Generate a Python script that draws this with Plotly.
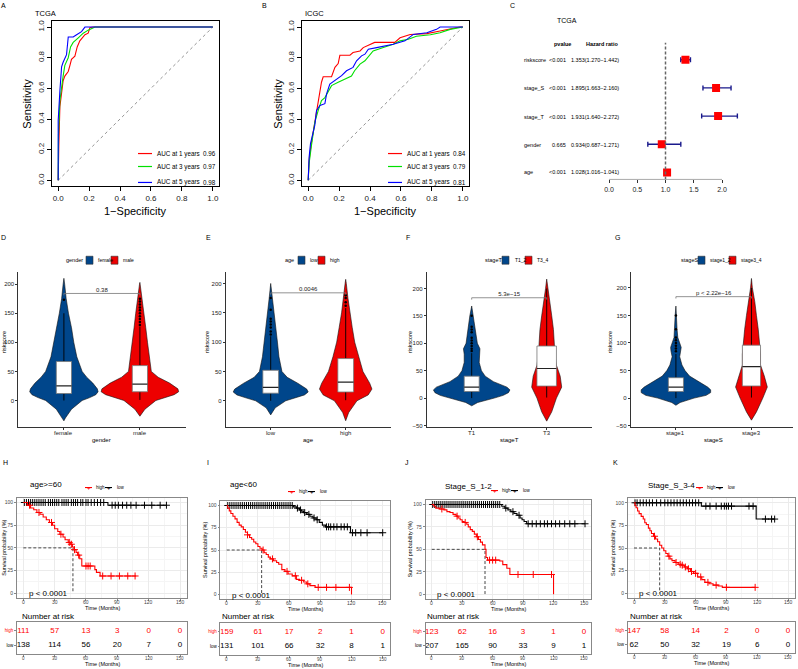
import plotly.graph_objects as go

W, H = 798, 669
FONT = "Liberation Sans, Arial, Helvetica, sans-serif"
BLUE = "#00468B"
RED = "#ED0000"

# ====================== DATA ======================
roc_ticks = [0.0, 0.2, 0.4, 0.6, 0.8, 1.0]
auc_years = [1, 3, 5]
roc_colors = ["#FF0000", "#00E000", "#0000FF"]

# TCGA ROC
tcga_fpr_1 = [0, 0, 0.004, 0.011, 0.022, 0.032, 0.043, 0.065, 0.076, 0.086, 0.108, 0.123, 0.14, 0.158, 0.173, 0.194, 0.205, 0.227, 1.0]
tcga_tpr_1 = [0, 0.09, 0.22, 0.48, 0.56, 0.65, 0.68, 0.71, 0.75, 0.79, 0.81, 0.87, 0.91, 0.93, 0.95, 0.96, 0.996, 1, 1]
tcga_fpr_3 = [0, 0.002, 0.011, 0.022, 0.032, 0.043, 0.065, 0.08, 0.097, 0.13, 0.162, 0.194, 0.238, 1.0]
tcga_tpr_3 = [0, 0.3, 0.52, 0.62, 0.68, 0.75, 0.80, 0.87, 0.9, 0.93, 0.96, 0.98, 1, 1]
tcga_fpr_5 = [0, 0, 0.011, 0.022, 0.032, 0.054, 0.065, 0.097, 0.119, 0.151, 0.173, 1.0]
tcga_tpr_5 = [0, 0.39, 0.585, 0.74, 0.77, 0.82, 0.935, 0.935, 0.95, 0.97, 1, 1]
tcga_auc = ["0.96", "0.97", "0.98"]

# ICGC ROC
icgc_fpr_1 = [0, 0.006, 0.02, 0.03, 0.043, 0.054, 0.065, 0.076, 0.086, 0.097, 0.151, 0.173, 0.194, 0.205, 0.27, 0.29, 0.335, 0.356, 0.4, 0.43, 0.56, 0.594, 0.66, 0.767, 0.853, 0.9, 0.98, 1.0]
icgc_tpr_1 = [0, 0.13, 0.24, 0.30, 0.37, 0.46, 0.52, 0.585, 0.64, 0.676, 0.676, 0.737, 0.762, 0.816, 0.816, 0.834, 0.844, 0.866, 0.888, 0.9, 0.9, 0.93, 0.952, 0.957, 0.974, 0.985, 1, 1]
icgc_fpr_3 = [0, 0.006, 0.02, 0.03, 0.043, 0.065, 0.086, 0.108, 0.13, 0.151, 0.194, 0.238, 0.28, 0.3, 0.335, 0.367, 0.4, 0.42, 0.486, 0.55, 0.594, 0.648, 0.7, 0.79, 0.853, 0.918, 1.0]
icgc_tpr_3 = [0, 0.11, 0.22, 0.3, 0.38, 0.456, 0.52, 0.54, 0.585, 0.618, 0.64, 0.66, 0.68, 0.715, 0.758, 0.78, 0.823, 0.844, 0.866, 0.888, 0.91, 0.92, 0.94, 0.95, 0.963, 0.985, 1]
icgc_fpr_5 = [0, 0.006, 0.015, 0.028, 0.043, 0.054, 0.076, 0.108, 0.119, 0.14, 0.173, 0.216, 0.248, 0.29, 0.313, 0.345, 0.367, 0.389, 0.443, 0.55, 0.626, 0.68, 0.767, 0.83, 0.853, 1.0]
icgc_tpr_5 = [0, 0.15, 0.24, 0.3, 0.36, 0.456, 0.488, 0.5, 0.564, 0.628, 0.65, 0.683, 0.715, 0.737, 0.78, 0.812, 0.823, 0.856, 0.866, 0.888, 0.91, 0.952, 0.963, 0.985, 1, 1]
icgc_auc = ["0.84", "0.79", "0.81"]

# Forest (TCGA multivariate Cox)
forest_vars = ["riskscore", "stage_S", "stage_T", "gender", "age"]
forest_p = ["<0.001", "<0.001", "<0.001", "0.665", "<0.001"]
forest_hr = [1.353, 1.895, 1.931, 0.934, 1.028]
forest_lo = [1.270, 1.663, 1.640, 0.687, 1.016]
forest_hi = [1.442, 2.160, 2.272, 1.271, 1.041]
forest_ticks = [0.0, 0.5, 1.0, 1.5, 2.0]

# Violins: outline profiles (riskscore level, half width in category units)
gender_cats = ["female", "male"]
gender_groups = ["female", "male"]
female_v = [-35, -30, -15, 0, 5, 10, 15, 20, 30, 40, 50, 75, 100, 125, 150, 175, 200, 210]
female_w = [0, 0.02, 0.1, 0.24, 0.34, 0.42, 0.45, 0.44, 0.38, 0.3, 0.24, 0.17, 0.13, 0.1, 0.06, 0.03, 0.01, 0]
male_v = [-27, -15, 0, 5, 10, 15, 20, 30, 40, 50, 75, 100, 125, 150, 175, 200, 203]
male_w = [0, 0.066, 0.21, 0.33, 0.45, 0.51, 0.5, 0.39, 0.24, 0.15, 0.12, 0.1, 0.077, 0.055, 0.033, 0.005, 0]
# box stats: [category, lower whisker, q1, median, q3, upper whisker]
gender_box = [[0, 0, 12, 25, 67, 150], [1, 1, 15, 28, 60, 127]]
gender_out = [[173], [130, 135, 140, 145, 150, 155, 160, 165, 170, 175]]
gender_p = "0.38"

age_cats = ["low", "high"]
age_groups = ["low", "high"]
agelow_v = [-24, -12, 0, 5, 10, 15, 20, 30, 40, 50, 75, 100, 125, 150, 175, 200]
agelow_w = [0, 0.06, 0.2, 0.33, 0.45, 0.5, 0.48, 0.36, 0.22, 0.15, 0.11, 0.09, 0.07, 0.045, 0.02, 0]
agehigh_v = [-34, -20, 0, 10, 20, 30, 50, 75, 100, 125, 150, 175, 200, 207]
agehigh_w = [0, 0.04, 0.15, 0.3, 0.35, 0.32, 0.23, 0.17, 0.12, 0.087, 0.055, 0.03, 0.008, 0]
age_box = [[0, 0, 13, 23, 52, 110], [1, 1, 15, 32, 72, 158]]
age_out = [[113, 118, 125, 130, 135, 140, 155, 175], [162, 168, 175, 180]]
age_p = "0.0046"

stageT_cats = ["T1", "T3"]
stageT_groups = ["T1_2", "T3_4"]
t12_v = [-14, -8, 0, 5, 10, 15, 20, 30, 40, 50, 65, 80, 90, 100, 115, 130, 150, 168]
t12_w = [0, 0.08, 0.3, 0.42, 0.49, 0.51, 0.47, 0.29, 0.18, 0.13, 0.1, 0.1, 0.11, 0.075, 0.06, 0.04, 0.025, 0]
t34_v = [-42, -25, 0, 20, 40, 60, 80, 100, 125, 150, 175, 200, 217]
t34_w = [0, 0.067, 0.13, 0.2, 0.18, 0.13, 0.11, 0.1, 0.09, 0.067, 0.044, 0.015, 0]
stageT_box = [[0, 0, 12, 20, 40, 82], [1, 1, 22, 54, 95, 200]]
stageT_out = [[86, 90, 95, 100, 105, 110, 120, 125, 130, 150], []]
stageT_p = "5.3e\u221215"

stageS_cats = ["stage1", "stage3"]
stageS_groups = ["stage1_2", "stage3_4"]
s12_v = [-13, -8, 0, 5, 10, 15, 20, 30, 40, 50, 60, 75, 85, 92, 100, 110, 125, 150, 167]
s12_w = [0, 0.055, 0.24, 0.4, 0.46, 0.46, 0.42, 0.3, 0.18, 0.12, 0.08, 0.05, 0.065, 0.07, 0.05, 0.025, 0.015, 0.01, 0]
s34_v = [-40, -25, 0, 20, 40, 60, 80, 100, 125, 150, 175, 200, 217]
s34_w = [0, 0.066, 0.15, 0.21, 0.17, 0.12, 0.12, 0.11, 0.09, 0.066, 0.044, 0.012, 0]
stageS_box = [[0, 0, 12, 20, 37, 80], [1, 1, 22, 57, 96, 200]]
stageS_out = [[85, 90, 95, 100, 105, 110, 125, 150], []]
stageS_p = "p < 2.22e\u221216"

# Survival curves (time in months, survival %)
time_ticks = [0, 30, 60, 90, 120, 150]
H_high_t = [0, 4, 7, 10, 13, 16, 19, 22, 25, 28, 30, 33, 35, 38, 40, 43, 45, 47, 48.5, 50.5, 52, 54, 56, 68.5, 70, 73.5, 108]
H_high_s = [100, 97, 94, 92, 89, 87, 84, 81, 78, 75, 71, 68, 65, 62, 59, 56, 54, 51, 48, 45, 42, 38, 30, 26, 23, 19, 19]
H_high_c = [6, 15, 27, 36, 44, 46, 49, 53, 60, 62, 64, 76, 84, 92, 100, 107]
H_low_t = [0, 81, 137]
H_low_s = [100, 97, 97]
H_low_c = [1, 3, 5, 7, 9, 11, 13, 15, 17, 19, 21, 24, 26, 28, 30, 32, 34, 37, 39, 41, 43, 46, 48, 50, 52, 55, 57, 60, 62, 65, 68, 71, 74, 77, 85, 88, 91, 95, 99, 103, 108, 116, 123, 131, 137]
H_risk_high = [111, 57, 13, 3, 0, 0]
H_risk_low = [138, 114, 56, 20, 7, 0]
H_median = 47.5

I_high_t = [0, 1, 2.5, 4, 6, 8, 10, 12, 14, 16, 18, 20, 22, 24, 26, 28, 30, 32, 34, 36, 38, 40, 42, 45, 48, 50, 53, 56, 59, 63, 67, 70, 74, 77, 80, 85, 120]
I_high_s = [100, 97, 94, 91, 88, 85, 81, 78, 76, 73, 70, 67, 64, 62, 59, 57, 54, 52, 50, 47, 45, 42, 40, 38, 36, 34, 28, 26, 23, 21, 17, 16, 14, 12, 10, 8, 0]
I_high_c = [20, 35, 44, 58, 66, 72, 78, 88, 96, 105, 118]
I_low_t = [0, 64, 67, 70, 72, 74, 77, 80, 83, 86, 89, 92, 95, 119, 150]
I_low_s = [100, 98.5, 97, 95, 93.5, 92, 90, 88, 86, 84, 81, 78, 76, 69.4, 69.4]
I_low_c = [1, 3, 5, 7, 9, 11, 13, 15, 17, 19, 21, 23, 25, 27, 29, 31, 33, 35, 37, 39, 41, 43, 45, 47, 49, 51, 53, 55, 57, 59, 61, 63, 68, 71, 75, 79, 84, 87, 96, 98, 100, 103, 106, 110, 113, 116, 121, 124, 129, 135, 150]
I_risk_high = [159, 61, 17, 2, 1, 0]
I_risk_low = [131, 101, 66, 32, 8, 1]
I_median = 33.6

J_high_t = [0, 2, 4, 8, 12, 15, 18, 21, 24, 26, 28, 30, 32, 34.5, 36, 38, 40, 42, 44, 46, 48, 50, 52.5, 53.5, 55, 67, 70, 74, 77, 120]
J_high_s = [100, 98, 96, 95, 94, 92, 91, 89, 87, 85, 83, 81, 80, 78, 75, 72, 70, 67, 64, 61, 58, 55, 50, 41, 38, 37, 33, 29, 22, 0]
J_high_c = [10, 25, 33, 45, 57, 60, 63, 85, 100, 118]
J_low_t = [0, 69, 72, 75, 78, 81, 84, 87, 89, 91, 93.5, 151]
J_low_s = [100, 98, 96, 94, 92, 90, 88, 85, 83, 81, 78.5, 78.5]
J_low_c = [1, 3, 5, 7, 9, 11, 13, 15, 17, 19, 21, 23, 25, 27, 29, 31, 33, 35, 37, 39, 41, 43, 45, 47, 49, 51, 53, 55, 57, 59, 61, 63, 65, 67, 73, 80, 86, 95, 99, 103, 107, 111, 114, 118, 122, 126, 131, 136, 141, 151]
J_risk_high = [123, 62, 16, 3, 1, 0]
J_risk_low = [207, 165, 90, 33, 9, 1]
J_median = 52.5

K_high_t = [0, 1, 2, 3.5, 5, 7, 9, 10.5, 12, 14, 15.5, 17, 19, 21, 23, 25, 27, 29, 31, 33, 35, 37, 40, 43, 46, 49, 52, 55, 58, 62, 66, 69, 73, 77, 82, 86, 118]
K_high_s = [100, 97, 94.5, 91, 88, 85, 82, 78, 76, 72, 69, 66, 63, 60, 57, 53, 50, 47, 44, 41, 38, 36, 34, 32, 31, 29, 27, 24, 22, 18, 15, 12, 10.5, 9, 8, 6.5, 6.5]
K_high_c = [20, 34, 41, 45, 47, 50, 53, 56, 60, 65, 72, 80, 90, 118]
K_low_t = [0, 65.6, 119, 137]
K_low_s = [100, 96.3, 82, 82]
K_low_c = [1, 3, 6, 9, 12, 15, 18, 22, 26, 30, 33, 36, 39, 42, 45, 48, 51, 54, 57, 60, 63, 70, 74, 80, 85, 88, 90, 92, 95, 112, 116, 128, 134, 137]
K_risk_high = [147, 58, 14, 2, 0, 0]
K_risk_low = [62, 50, 32, 19, 6, 0]
K_median = 25.0

surv_titles = ["age>=60", "age<60", "Stage_S_1-2", "Stage_S_3-4"]
surv_pvals = ["p < 0.0001", "p < 0.0001", "p < 0.0001", "p < 0.0001"]

# ====================== HELPERS ======================
fig = go.Figure()
layout_axes = {}
annotations = []
shapes = []
naxes = [0]


def add_axes(xl, xr_, yt, yb, xrange, yrange, xkw=None, ykw=None):
    naxes[0] += 1
    n = naxes[0]
    s = "" if n == 1 else str(n)
    xa = dict(domain=[xl / W, xr_ / W], range=xrange, anchor="y" + s, showgrid=False,
              zeroline=False, fixedrange=True)
    ya = dict(domain=[1 - yb / H, 1 - yt / H], range=yrange, anchor="x" + s, showgrid=False,
              zeroline=False, fixedrange=True)
    if xkw:
        xa.update(xkw)
    if ykw:
        ya.update(ykw)
    layout_axes["xaxis" + s] = xa
    layout_axes["yaxis" + s] = ya
    return "x" + s, "y" + s


def txt(x, y, s, size=7, color="black", xa="center", ya="middle", angle=0):
    annotations.append(dict(x=x / W, y=1 - y / H, xref="paper", yref="paper", text=s,
                            showarrow=False, xanchor=xa, yanchor=ya, textangle=angle,
                            font=dict(size=size, color=color, family=FONT)))


def pline(x0, y0, x1, y1, color="black", width=1, dash=None):
    shapes.append(dict(type="line", xref="paper", yref="paper", x0=x0 / W, x1=x1 / W,
                       y0=1 - y0 / H, y1=1 - y1 / H,
                       line=dict(color=color, width=width, dash=dash)))


def prect(x0, y0, x1, y1, fill, line="#333333", width=0.6):
    shapes.append(dict(type="rect", xref="paper", yref="paper", x0=x0 / W, x1=x1 / W,
                       y0=1 - y1 / H, y1=1 - y0 / H, fillcolor=fill,
                       line=dict(color=line, width=width)))


def step_value(ts, ss, t):
    v = ss[0]
    for ti, si in zip(ts, ss):
        if ti <= t:
            v = si
    return v


# ====================== ROC PANELS (A, B) ======================
def roc_panel(letter, xl, xr_, letter_x, title, title_x, curves, aucs, leg_x, ylab_x):
    xa, ya = add_axes(
        xl, xr_, 20, 186, [-0.04, 1.04], [-0.04, 1.04],
        xkw=dict(showline=True, mirror=True, linecolor="black", linewidth=0.8, ticks="outside",
                 ticklen=4, tickcolor="black", tickvals=roc_ticks,
                 ticktext=["%.1f" % v for v in roc_ticks],
                 tickfont=dict(size=8, family=FONT, color="#222")),
        ykw=dict(showline=True, mirror=True, linecolor="black", linewidth=0.8, ticks="outside",
                 ticklen=4, tickcolor="black", tickvals=roc_ticks,
                 ticktext=["%.1f" % v for v in roc_ticks], tickangle=-90,
                 tickfont=dict(size=8, family=FONT, color="#222")))
    fig.add_trace(go.Scatter(x=[roc_ticks[0], roc_ticks[-1]], y=[roc_ticks[0], roc_ticks[-1]],
                             mode="lines", line=dict(color="#777", width=0.8, dash="dot"),
                             xaxis=xa, yaxis=ya, hoverinfo="skip"))
    for (fx, fy), col in zip(curves, roc_colors):
        fig.add_trace(go.Scatter(x=fx, y=fy, mode="lines", line=dict(color=col, width=1.1),
                                 xaxis=xa, yaxis=ya, hoverinfo="skip"))
    txt(letter_x, 5, letter, size=7)
    txt(title_x, 13, title, size=7.5, xa="left")
    txt(ylab_x, 103, "Sensitivity", size=11, angle=-90)
    txt((xl + xr_) / 2, 211, "1\u2212Specificity", size=11)
    for i, (yr_, col) in enumerate(zip(auc_years, roc_colors)):
        yy = [153, 166, 182][i]
        pline(leg_x, yy, leg_x + 14, yy, col, 1.2)
        txt(leg_x + 17, yy, "AUC at %d years" % yr_, size=6.3, xa="left")
        txt(xr_ - 1, yy, aucs[i], size=6.3, xa="right")


roc_panel("A", 52, 219, 3, "TCGA", 33,
          [(tcga_fpr_1, tcga_tpr_1), (tcga_fpr_3, tcga_tpr_3), (tcga_fpr_5, tcga_tpr_5)],
          tcga_auc, 138, 27)
roc_panel("B", 302, 469, 264, "ICGC", 303,
          [(icgc_fpr_1, icgc_tpr_1), (icgc_fpr_3, icgc_tpr_3), (icgc_fpr_5, icgc_tpr_5)],
          icgc_auc, 388, 278)

# ====================== FOREST PANEL (C) ======================
fx0 = 609.0
fppu = 56.5
xa, ya = add_axes(600, 760, 40, 179, [(600 - fx0) / fppu, (760 - fx0) / fppu], [0.75, 5.67],
                  xkw=dict(showline=False, ticks="outside", ticklen=3, tickcolor="#333",
                           tickvals=forest_ticks, ticktext=["%.1f" % v for v in forest_ticks],
                           tickfont=dict(size=7, family=FONT, color="#222")),
                  ykw=dict(showline=False, showticklabels=False, ticks=""))
rows = list(range(len(forest_vars), 0, -1))
shapes.append(dict(type="line", xref=xa, yref=ya, x0=forest_ticks[0], x1=forest_ticks[-1],
                   y0=0.75, y1=0.75, line=dict(color="#333", width=0.8)))
shapes.append(dict(type="line", xref=xa, yref=ya, x0=1, x1=1, y0=0.75, y1=5.6,
                   line=dict(color="#666", width=1.5, dash="3px,2px")))
fig.add_trace(go.Scatter(
    x=forest_hr, y=rows, mode="markers",
    marker=dict(symbol="square", size=8, color="#FF0000"),
    error_x=dict(type="data", symmetric=False,
                 array=[h - m for h, m in zip(forest_hi, forest_hr)],
                 arrayminus=[m - l for m, l in zip(forest_hr, forest_lo)],
                 color="#1A1A8C", thickness=1.4, width=2.5),
    xaxis=xa, yaxis=ya, hoverinfo="skip"))
txt(512, 5, "C", size=7)
txt(555, 20, "TCGA", size=7, xa="left")
txt(562, 43, "<b>pvalue</b>", size=5.5)
txt(602, 43, "<b>Hazard ratio</b>", size=5.5)
row_y = [59, 87, 116, 144, 172]
for i, v in enumerate(forest_vars):
    txt(522, row_y[i], v, size=5.5, xa="left")
    txt(568, row_y[i], forest_p[i], size=5.5, xa="right")
    txt(621, row_y[i], "%.3f(%.3f\u2212%.3f)" % (forest_hr[i], forest_lo[i], forest_hi[i]),
        size=5.5, xa="right")


# ====================== VIOLIN PANELS (D-G) ======================
def violin_panel(letter, letter_x, xl, xr_, xrange, y200, y0, yticks, cats, groups, gtitle, profiles,
                 boxes, outs, bws, pval, bracket_y, ylab_x, xtitle, legend_pos):
    ppu = (y0 - y200) / 200.0
    ybot_px = 427.7
    yrange = [-(ybot_px - y0) / ppu, (y0 - 271.7) / ppu]
    xa, ya = add_axes(
        xl, xr_, 271.7, ybot_px, xrange, yrange,
        xkw=dict(showline=True, linecolor="#333", linewidth=0.8, ticks="outside", ticklen=2,
                 tickcolor="#333", tickvals=[0, 1], showticklabels=False),
        ykw=dict(showline=True, linecolor="#333", linewidth=0.8, ticks="outside", ticklen=2,
                 tickcolor="#333", tickvals=yticks,
                 tickfont=dict(size=6, family=FONT, color="#222")))
    xppu = (xr_ - xl) / (xrange[1] - xrange[0])
    for k, c in enumerate(cats):
        txt(xl + (k - xrange[0]) * xppu, ybot_px + 5.5, c, size=6, color="#222")
    txt(xl + (0.5 - xrange[0]) * xppu, ybot_px + 12.5, xtitle, size=6)
    cols = [BLUE, RED]
    for k, (vv, ww) in enumerate(profiles):
        xs = [k + w for w in ww] + [k - w for w in reversed(ww)]
        ys = list(vv) + list(reversed(vv))
        fig.add_trace(go.Scatter(x=xs, y=ys, mode="lines", fill="toself", fillcolor=cols[k],
                                 line=dict(color="#111", width=0.6), xaxis=xa, yaxis=ya,
                                 hoverinfo="skip"))
    for k, (cat, lf, q1, med, q3, uf) in enumerate(boxes):
        bw = bws[k]
        fig.add_trace(go.Scatter(x=[cat, cat], y=[lf, q1], mode="lines",
                                 line=dict(color="black", width=0.9), xaxis=xa, yaxis=ya,
                                 hoverinfo="skip"))
        fig.add_trace(go.Scatter(x=[cat, cat], y=[q3, uf], mode="lines",
                                 line=dict(color="black", width=0.9), xaxis=xa, yaxis=ya,
                                 hoverinfo="skip"))
        fig.add_trace(go.Scatter(x=[cat - bw / 2, cat + bw / 2, cat + bw / 2, cat - bw / 2, cat - bw / 2],
                                 y=[q1, q1, q3, q3, q1], mode="lines", fill="toself",
                                 fillcolor="white", line=dict(color="#777", width=0.8),
                                 xaxis=xa, yaxis=ya, hoverinfo="skip"))
        fig.add_trace(go.Scatter(x=[cat - bw / 2, cat + bw / 2], y=[med, med], mode="lines",
                                 line=dict(color="#222", width=1.2), xaxis=xa, yaxis=ya,
                                 hoverinfo="skip"))
        if outs[k]:
            fig.add_trace(go.Scatter(x=[cat] * len(outs[k]), y=outs[k], mode="markers",
                                     marker=dict(color="black", size=2.5), xaxis=xa, yaxis=ya,
                                     hoverinfo="skip"))
    # significance bracket
    tip = (yrange[1] - yrange[0]) * 0.012
    fig.add_trace(go.Scatter(x=[0, 0, 1, 1], y=[bracket_y - tip, bracket_y, bracket_y, bracket_y - tip],
                             mode="lines", line=dict(color="#777", width=0.8), xaxis=xa, yaxis=ya,
                             hoverinfo="skip"))
    fig.add_trace(go.Scatter(x=[0.5], y=[bracket_y], mode="text", text=[pval],
                             textposition="top center",
                             textfont=dict(size=6, family=FONT, color="#222"),
                             xaxis=xa, yaxis=ya, hoverinfo="skip"))
    txt(letter_x, 237, letter, size=7)
    txt(ylab_x, 342, "riskscore", size=5.5, angle=-90)
    # legend
    gx, s1, t1, s2, t2 = legend_pos
    txt(gx, 260, gtitle, size=5.5, xa="left")
    prect(s1, 256, s1 + 7, 264, BLUE)
    txt(t1, 260, groups[0], size=5, xa="left")
    prect(s2, 256, s2 + 7, 264, RED)
    txt(t2, 260, groups[1], size=5, xa="left")


violin_panel("D", 3, 18.3, 185.5, [-0.6, 1.6], 284.0, 400.7, [0, 50, 100, 150, 200], gender_cats,
             gender_groups, "gender", [(female_v, female_w), (male_v, male_w)], gender_box,
             gender_out, [0.2, 0.2], gender_p, 184, 4, "gender", (64, 86, 96, 111, 121))
violin_panel("E", 208, 225.7, 390.7, [-0.6, 1.6], 283.3, 401.0, [0, 50, 100, 150, 200], age_cats,
             age_groups, "age", [(agelow_v, agelow_w), (agehigh_v, agehigh_w)], age_box, age_out,
             [0.21, 0.21], age_p, 184, 207, "age", (283, 298, 308, 318, 328))
violin_panel("F", 408, 426.7, 591.7, [-0.6, 1.6], 288.3, 398.3, [-50, 0, 50, 100, 150, 200],
             stageT_cats, stageT_groups, "stageT", [(t12_v, t12_w), (t34_v, t34_w)], stageT_box,
             stageT_out, [0.2, 0.26], stageT_p, 183, 410, "stageT", (483, 502, 513, 525, 535))
violin_panel("G", 617, 630.6, 793.0, [-0.6, 1.55], 287.7, 398.3, [-50, 0, 50, 100, 150, 200],
             stageS_cats, stageS_groups, "stageS", [(s12_v, s12_w), (s34_v, s34_w)], stageS_box,
             stageS_out, [0.2, 0.24], stageS_p, 184, 610, "stageS", (679, 698, 708, 729, 739))

# ====================== SURVIVAL PANELS (H-K) ======================
surv_sets = [
    (H_high_t, H_high_s, H_high_c, H_low_t, H_low_s, H_low_c, H_risk_high, H_risk_low, H_median),
    (I_high_t, I_high_s, I_high_c, I_low_t, I_low_s, I_low_c, I_risk_high, I_risk_low, I_median),
    (J_high_t, J_high_s, J_high_c, J_low_t, J_low_s, J_low_c, J_risk_high, J_risk_low, J_median),
    (K_high_t, K_high_s, K_high_c, K_low_t, K_low_s, K_low_c, K_risk_high, K_risk_low, K_median),
]
surv_geom = [
    dict(letter="H", lx=5, t0=23.3, t150=180.0, y100=503.0, y0=594.0, rt=623, rb=655,
         title_x=28, title_y=485, leg_x=85, leg_y=488, ylab_x=4, p_x=27, p_y=594, nar_x=20),
    dict(letter="I", lx=208, t0=226.7, t150=382.7, y100=506.0, y0=595.3, rt=624, rb=656,
         title_x=228, title_y=485, leg_x=288, leg_y=492, ylab_x=205, p_x=230, p_y=596, nar_x=220),
    dict(letter="J", lx=407, t0=431.7, t150=584.0, y100=505.0, y0=595.0, rt=624, rb=655,
         title_x=443, title_y=487, leg_x=491, leg_y=491, ylab_x=410, p_x=435, p_y=595, nar_x=425),
    dict(letter="K", lx=615, t0=634.0, t150=788.0, y100=503.3, y0=594.0, rt=623, rb=654,
         title_x=646, title_y=486, leg_x=696, leg_y=488, ylab_x=613, p_x=637, p_y=594, nar_x=628),
]

for gi, (g, d) in enumerate(zip(surv_geom, surv_sets)):
    hi_t, hi_s, hi_c, lo_t, lo_s, lo_c, r_hi, r_lo, med = d
    ppm = (g["t150"] - g["t0"]) / 150.0
    xl = g["t0"] - 6 * ppm
    xr_ = g["t0"] + 157 * ppm
    ppu = (g["y0"] - g["y100"]) / 100.0
    ytop = g["y100"] - 5 * ppu
    ybot = g["y0"] + 5 * ppu
    common_x = dict(showline=True, mirror=True, linecolor="#888", linewidth=0.8, ticks="outside",
                    ticklen=2, tickcolor="#888", tickmode="array", tickvals=time_ticks,
                    showticklabels=False)
    xa, ya = add_axes(
        xl, xr_, ytop, ybot, [-6, 157], [-5, 105],
        xkw=dict(common_x, showgrid=True, gridcolor="#EBEBEB", gridwidth=0.6,
                 minor=dict(tickvals=[15, 45, 75, 105, 135], showgrid=True, gridcolor="#F5F5F5",
                            ticks="")),
        ykw=dict(showline=True, mirror=True, linecolor="#888", linewidth=0.8, ticks="outside",
                 ticklen=2, tickcolor="#888", tickvals=[0, 25, 50, 75, 100], showgrid=True,
                 gridcolor="#EBEBEB", gridwidth=0.6,
                 minor=dict(tickvals=[12.5, 37.5, 62.5, 87.5], showgrid=True,
                            gridcolor="#F5F5F5", ticks=""),
                 tickfont=dict(size=5, family=FONT, color="#444")))
    for t in time_ticks:
        txt(g["t0"] + t * ppm, ybot + 4.5, str(t), size=5, color="#444")
    # median lines
    fig.add_trace(go.Scatter(x=[0, med, med], y=[50, 50, 0], mode="lines",
                             line=dict(color="#333", width=0.9, dash="3px,2px"), xaxis=xa,
                             yaxis=ya, hoverinfo="skip"))
    for ts, ss, cs, col in [(lo_t, lo_s, lo_c, "black"), (hi_t, hi_s, hi_c, "#FF0000")]:
        fig.add_trace(go.Scatter(x=ts, y=ss, mode="lines", line=dict(color=col, width=1.1, shape="hv"),
                                 xaxis=xa, yaxis=ya, hoverinfo="skip"))
        fig.add_trace(go.Scatter(x=cs, y=[step_value(ts, ss, c) for c in cs], mode="markers",
                                 marker=dict(symbol="cross-thin", size=5,
                                             line=dict(color=col, width=1)),
                                 xaxis=xa, yaxis=ya, hoverinfo="skip"))
    txt(g["lx"], 463, g["letter"], size=7)
    txt(g["title_x"], g["title_y"], surv_titles[gi], size=8, xa="left")
    txt(g["ylab_x"], (ytop + ybot) / 2, "Survival probability (%)", size=5.5, angle=-90)
    txt((xl + xr_) / 2, ybot + 10, "Time (Months)", size=5.5)
    txt(g["p_x"], g["p_y"], surv_pvals[gi], size=8, xa="left")
    # legend
    lx, ly = g["leg_x"], g["leg_y"]
    pline(lx, ly, lx + 7, ly, "#FF0000", 1.1)
    txt(lx + 3.5, ly, "+", size=6, color="#FF0000")
    txt(lx + 9, ly, "high", size=4.5, xa="left")
    pline(lx + 20, ly, lx + 27, ly, "black", 1.1)
    txt(lx + 23.5, ly, "+", size=6, color="black")
    txt(lx + 30, ly, "low", size=4.5, xa="left")

    # risk table
    xa2, ya2 = add_axes(
        xl, xr_, g["rt"], g["rb"], [-6, 157], [0.4, 2.6],
        xkw=dict(common_x),
        ykw=dict(showline=True, mirror=True, linecolor="#888", linewidth=0.8, ticks="outside",
                 ticklen=2, tickcolor="#888", tickvals=[1, 2],
                 ticktext=["low", "<span style='color:#FF0000'>high</span>"],
                 tickfont=dict(size=4.5, family=FONT, color="black")))
    fig.add_trace(go.Scatter(x=time_ticks, y=[2] * len(time_ticks), mode="text",
                             text=[str(v) for v in r_hi],
                             textfont=dict(size=8, family=FONT, color="#FF0000"),
                             xaxis=xa2, yaxis=ya2, hoverinfo="skip"))
    fig.add_trace(go.Scatter(x=time_ticks, y=[1] * len(time_ticks), mode="text",
                             text=[str(v) for v in r_lo],
                             textfont=dict(size=8, family=FONT, color="black"),
                             xaxis=xa2, yaxis=ya2, hoverinfo="skip"))
    for t in time_ticks:
        txt(g["t0"] + t * ppm, g["rb"] + 4.2, str(t), size=4.5, color="#444")
    txt(g["nar_x"], 617, "Number at risk", size=8, xa="left")
    txt((xl + xr_) / 2, g["rb"] + 9.8, "Time (Months)", size=5.5)

fig.update_layout(
    width=W, height=H, margin=dict(l=0, r=0, t=0, b=0),
    paper_bgcolor="white", plot_bgcolor="white", showlegend=False,
    font=dict(family=FONT), annotations=annotations, shapes=shapes, **layout_axes)

fig.write_html("out.html")
